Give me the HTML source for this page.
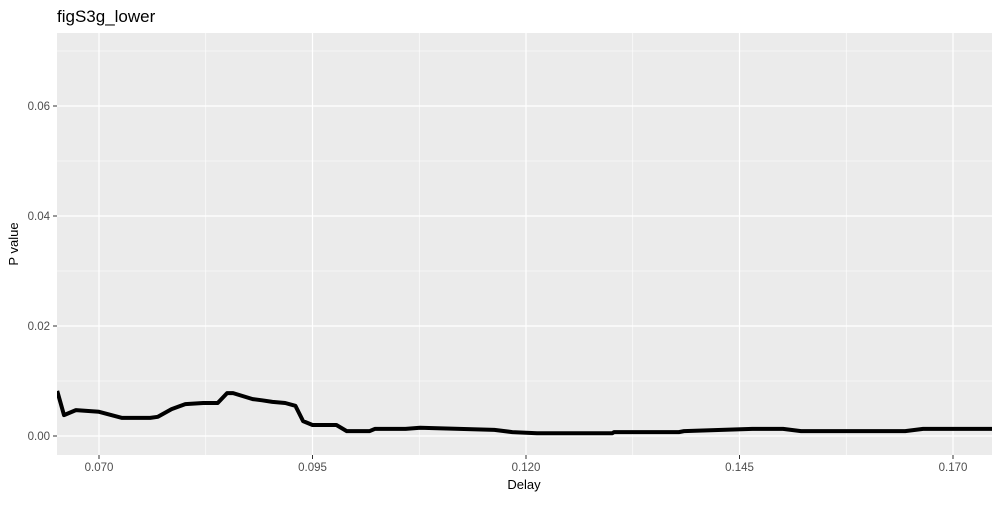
<!DOCTYPE html>
<html><head><meta charset="utf-8"><style>
body{margin:0;background:#fff;font-family:"Liberation Sans",Arial,sans-serif}
svg text{font-family:"Liberation Sans",Arial,sans-serif}
</style></head><body>
<svg id="chart" width="1000" height="500" xmlns="http://www.w3.org/2000/svg">
<text x="57" y="22" font-size="17" fill="#000">figS3g_lower</text>
<rect x="57" y="33" width="935" height="422" fill="#ebebeb"/>
<g id="grid"></g>
<g id="axes"></g>
<clipPath id="clip"><rect x="57" y="33" width="935" height="422"/></clipPath>
<path id="line" fill="none" stroke="#000" stroke-width="4" stroke-linejoin="round" clip-path="url(#clip)"/>
<text x="524" y="489" font-size="13" text-anchor="middle" fill="#000">Delay</text>
<text transform="translate(18,244) rotate(-90)" font-size="13" text-anchor="middle" fill="#000">P value</text>
</svg>
<script>
const delays=[0.0651,0.0659,0.0673,0.0700,0.0727,0.0760,0.0769,0.0785,0.0801,0.0822,0.0839,0.0850,0.0857,0.0880,0.0891,0.0903,0.0918,0.0930,0.0939,0.0950,0.0978,0.0990,0.1017,0.1023,0.1059,0.1076,0.1163,0.1184,0.1213,0.1301,0.1303,0.1379,0.1385,0.1465,0.1501,0.1522,0.1644,0.1665,0.1746];
const pvalues=[0.0082,0.0038,0.0047,0.0044,0.0033,0.0033,0.0035,0.0049,0.0058,0.0060,0.0060,0.0078,0.0078,0.0067,0.0065,0.0062,0.0060,0.0055,0.0027,0.0020,0.0020,0.0009,0.0009,0.0013,0.0013,0.0015,0.0011,0.0007,0.0005,0.0005,0.0007,0.0007,0.0009,0.0013,0.0013,0.0009,0.0009,0.0013,0.0013];
const xTicks=[0.070,0.095,0.120,0.145,0.170];
const xTickLabels=["0.070","0.095","0.120","0.145","0.170"];
const yTicks=[0,0.02,0.04,0.06];
const yTickLabels=["0.00","0.02","0.04","0.06"];
const NS="http://www.w3.org/2000/svg";
const X=v=>99+(v-0.070)*8540;
const Y=v=>436-v*5500;
const grid=document.getElementById('grid'),axes=document.getElementById('axes');
function mk(tag,attrs,parent){const e=document.createElementNS(NS,tag);for(const k in attrs)e.setAttribute(k,attrs[k]);parent.appendChild(e);return e;}
for(let i=0;i<xTicks.length;i++){const m=xTicks[i]+0.0125;if(X(m)<992){const l=mk('line',{x1:X(m),x2:X(m),y1:33,y2:455,stroke:'#fff','stroke-width':0.6},grid);

}}
for(let i=0;i<yTicks.length;i++){const m=yTicks[i]+0.01;if(Y(m)>33){const l=mk('line',{x1:57,x2:992,y1:Y(m),y2:Y(m),stroke:'#fff','stroke-width':0.6},grid);

}}
xTicks.forEach((t,i)=>{const x=X(t);
const g=mk('line',{x1:x,x2:x,y1:33,y2:455,stroke:'#fff','stroke-width':1.2},grid);


mk('line',{x1:x,x2:x,y1:455,y2:459,stroke:'#333','stroke-width':1},axes);
const tx=mk('text',{x:x,y:471,'font-size':11.5,'text-anchor':'middle',fill:'#4d4d4d'},axes);tx.textContent=xTickLabels[i];

});
yTicks.forEach((t,i)=>{const y=Y(t);
const g=mk('line',{x1:57,x2:992,y1:y,y2:y,stroke:'#fff','stroke-width':1.2},grid);


mk('line',{x1:53,x2:57,y1:y,y2:y,stroke:'#333','stroke-width':1},axes);
const tx=mk('text',{x:50,y:y+4,'font-size':11.5,'text-anchor':'end',fill:'#4d4d4d'},axes);tx.textContent=yTickLabels[i];

});
document.getElementById('line').setAttribute('d',delays.map((d,i)=>(i?'L':'M')+X(d).toFixed(1)+' '+Y(pvalues[i]).toFixed(1)).join(' '));
</script>
</body></html>
